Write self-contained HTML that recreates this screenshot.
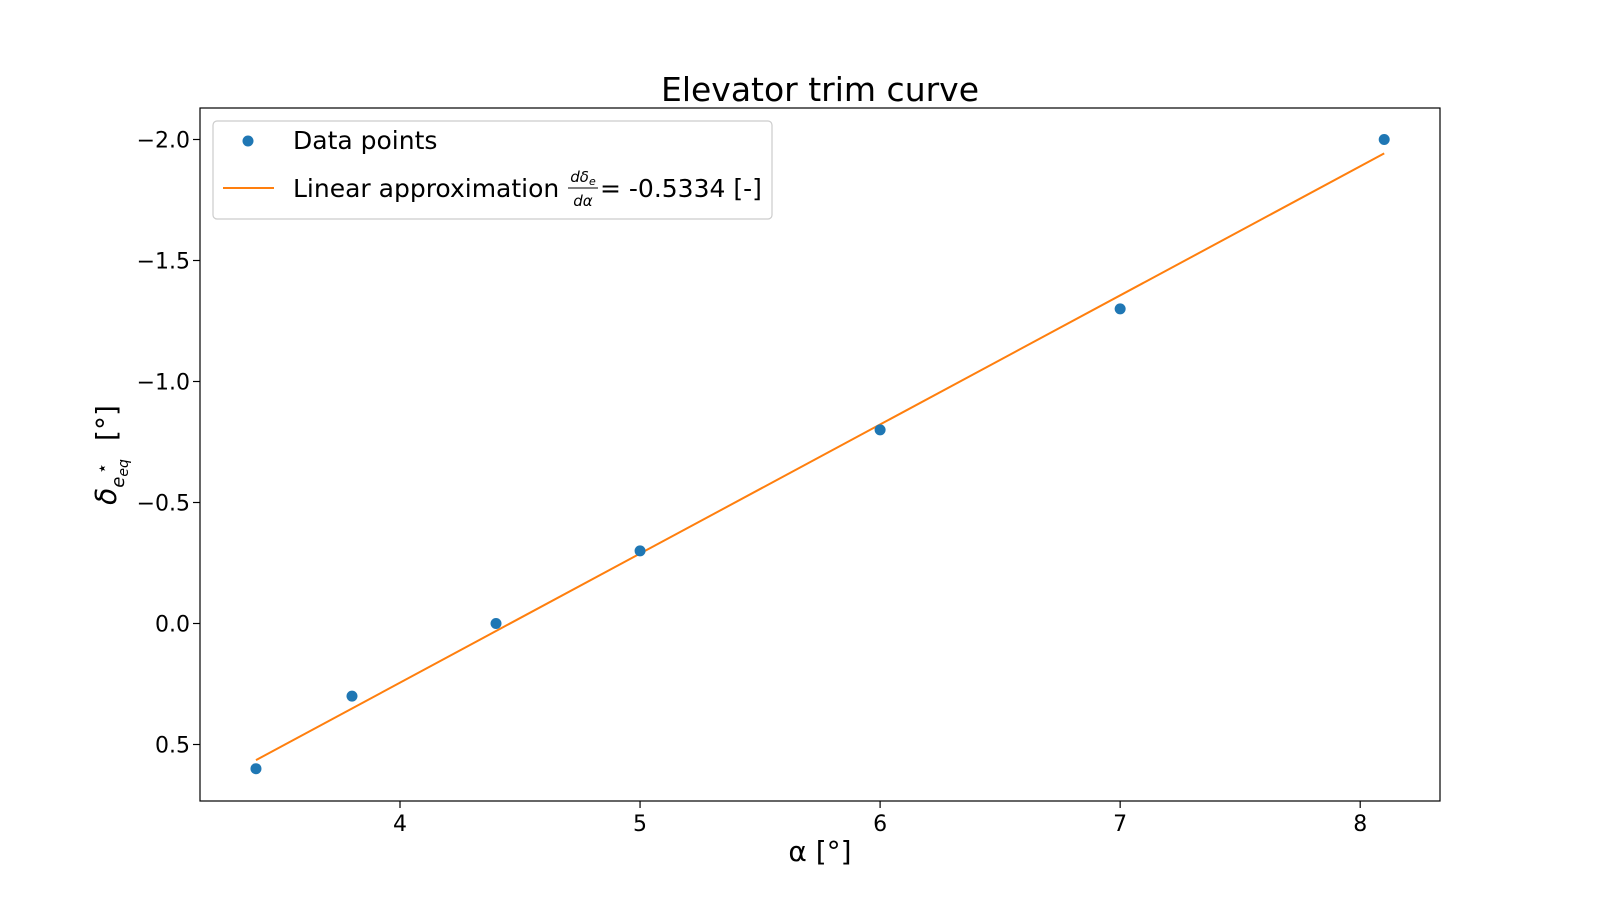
<!DOCTYPE html>
<html><head><meta charset="utf-8"><style>
body{margin:0;background:#fff;}
svg text{font-family:"DejaVu Sans","Liberation Sans",sans-serif;fill:#000;}
</style></head><body>
<svg id="chart" width="1600" height="900" xmlns="http://www.w3.org/2000/svg">
<text x="820" y="101" font-size="33" text-anchor="middle">Elevator trim curve</text>
<rect x="200" y="108" width="1240" height="693" fill="none" stroke="#000" stroke-width="1.2"/>
<g id="ticks"></g>
<g id="marks"></g>
<text x="820" y="861" font-size="28" text-anchor="middle">α [°]</text>
<text transform="translate(116,455) rotate(-90)" font-size="28" text-anchor="middle"><tspan font-style="italic">δ</tspan><tspan font-size="18" dy="8" font-style="italic">e</tspan><tspan font-size="14" dy="4" font-style="italic">eq</tspan><tspan font-size="18" dy="-20" dx="-15">⋆</tspan><tspan dy="8" dx="13">  [°]</tspan></text>
<g>
<rect x="213" y="121" width="559" height="98" rx="4" fill="#fff" stroke="#ccc" stroke-width="1.2"/>
<circle cx="248" cy="141" r="5.5" fill="#1f77b4"/>
<text x="293" y="149" font-size="25">Data points</text>
<line x1="223" y1="188" x2="274" y2="188" stroke="#ff7f0e" stroke-width="2"/>
<text x="293" y="197" font-size="25">Linear approximation</text>
<text x="583" y="182" font-size="15" text-anchor="middle" font-style="italic">dδ<tspan font-size="11" dy="3">e</tspan></text>
<line x1="568" y1="188" x2="598" y2="188" stroke="#000" stroke-width="1"/>
<text x="583" y="206" font-size="15" text-anchor="middle" font-style="italic">dα</text>
<text x="600" y="197" font-size="25">= -0.5334 [-]</text>
</g>
</svg>
<script>
const xTicks=[4,5,6,7,8];
const yTicks=[-2.0,-1.5,-1.0,-0.5,0.0,0.5];
const yTickLabels=["−2.0","−1.5","−1.0","−0.5","0.0","0.5"];
const alphaVals=[3.4,3.8,4.4,5.0,6.0,7.0,8.1];
const deltaVals=[0.6,0.3,0.0,-0.3,-0.8,-1.3,-2.0];
const fitSlope=-0.5334;
const fitIntercept=2.378;
const NS="http://www.w3.org/2000/svg";
function xs(v){return 400+(v-4)*240.05;}
function ys(v){return 623.5+v*242;}
function mk(tag,attrs,parent){const e=document.createElementNS(NS,tag);for(const k in attrs)e.setAttribute(k,attrs[k]);parent.appendChild(e);return e;}
const tg=document.getElementById('ticks'),mg=document.getElementById('marks');
xTicks.forEach(v=>{
  const l=mk('line',{x1:xs(v),x2:xs(v),y1:801,y2:808,stroke:'#000','stroke-width':1.2},tg);
  
  
  const t=mk('text',{x:xs(v),y:831,'font-size':22,'text-anchor':'middle'},tg);t.textContent=v;
  
  
});
yTicks.forEach((v,i)=>{
  const l=mk('line',{x1:193,x2:200,y1:ys(v),y2:ys(v),stroke:'#000','stroke-width':1.2},tg);
  
  
  const t=mk('text',{x:190,y:ys(v)+8,'font-size':22,'text-anchor':'end'},tg);t.textContent=yTickLabels[i];
  
  
});
const xmin=Math.min(...alphaVals),xmax=Math.max(...alphaVals);
const fl=mk('line',{x1:xs(xmin),y1:ys(fitIntercept+fitSlope*xmin),x2:xs(xmax),y2:ys(fitIntercept+fitSlope*xmax),stroke:'#ff7f0e','stroke-width':2},mg);


alphaVals.forEach((a,i)=>{
  const c=mk('circle',{cx:xs(a),cy:ys(deltaVals[i]),r:5.5,fill:'#1f77b4'},mg);
  
  
});
</script>
</body></html>
